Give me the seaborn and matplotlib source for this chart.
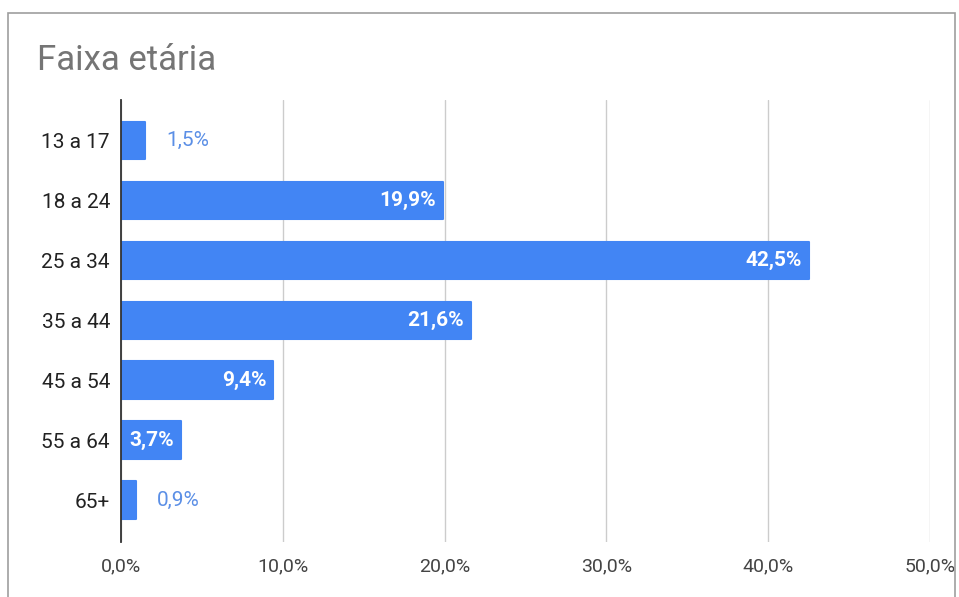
import matplotlib
matplotlib.use("Agg")
import matplotlib.pyplot as plt
import seaborn as sns
import pandas as pd
from matplotlib.patches import Rectangle

# data
faixas = ["13 a 17", "18 a 24", "25 a 34", "35 a 44", "45 a 54", "55 a 64", "65+"]
percentuais = [1.5, 19.9, 42.5, 21.6, 9.4, 3.7, 0.9]
ticks_x = [0, 10, 20, 30, 40, 50]

azul = "#4285F4"

sns.set_theme(style="white")
plt.rcParams["font.family"] = ["Roboto", "DejaVu Sans"]

df = pd.DataFrame({"faixa": faixas, "pct": percentuais})

fig = plt.figure(figsize=(9.59, 5.97), dpi=100)
ax = fig.add_axes([0.1262, 0.0921, 0.8436, 0.7404])

sns.barplot(data=df, x="pct", y="faixa", orient="h", color=azul,
            saturation=1, width=0.62, ax=ax, zorder=3)
for p in ax.patches:
    p.set_edgecolor(azul)
    p.set_linewidth(1.5)
    p.set_joinstyle("round")

ax.set_xlim(0, 50)
ax.set_ylim(6.7, -0.67)
ax.set_xticks(ticks_x)
ax.set_xticklabels([f"{t:.1f}%".replace(".", ",") for t in ticks_x],
                   fontsize=14, color="#444444")
ax.tick_params(axis="y", labelsize=15, labelcolor="#222222", length=0, pad=8)
ax.tick_params(axis="x", length=0, pad=11)
ax.set_xlabel("")
ax.set_ylabel("")

ax.grid(axis="x", color="#cccccc", linewidth=1, zorder=0)
for s in ["top", "right", "bottom"]:
    ax.spines[s].set_visible(False)
ax.spines["left"].set_color("#333333")
ax.spines["left"].set_linewidth(1.3)
ax.spines["left"].set_zorder(5)

for i, v in enumerate(percentuais):
    txt = f"{v:.1f}%".replace(".", ",")
    if v > 2:
        ax.annotate(txt, (v, i), xytext=(-5, 0), textcoords="offset points",
                    ha="right", va="center", color="white",
                    fontweight="bold", fontsize=15, zorder=6)
    else:
        ax.annotate(txt, (v, i), xytext=(15, 0), textcoords="offset points",
                    ha="left", va="center", color="#5b8fe6",
                    fontsize=15, zorder=6)

fig.text(37 / 959, 1 - 60 / 597, "Faixa etária", fontsize=25,
         color="#757575", ha="left", va="center")

fig.patches.append(Rectangle((8 / 959, -0.05), 947 / 959, 1.05 - 13 / 597,
                             transform=fig.transFigure, fill=False,
                             edgecolor="#9e9e9e", linewidth=1.2))

fig.savefig("out.png", dpi=100)
